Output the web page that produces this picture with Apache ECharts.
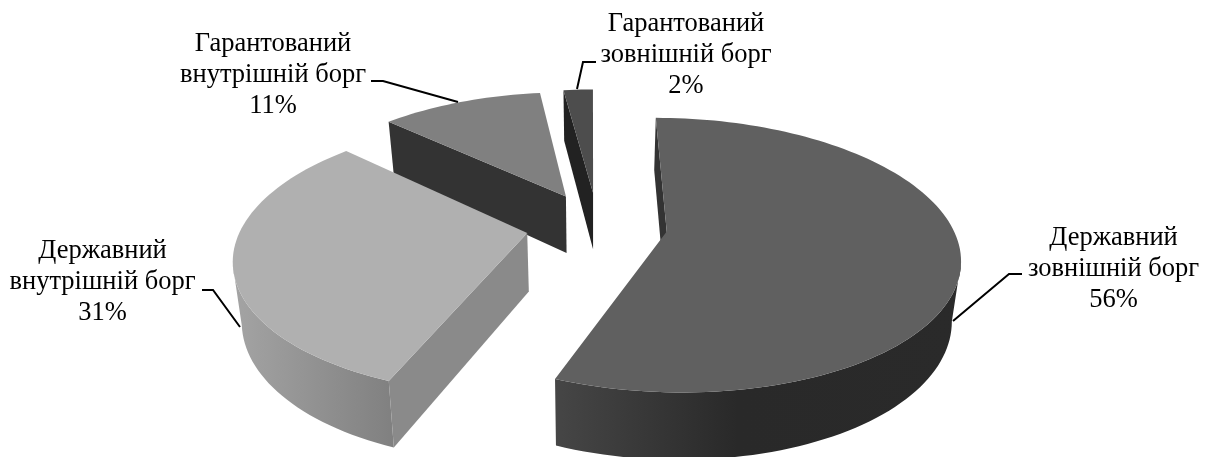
<!DOCTYPE html>
<html>
<head>
<meta charset="utf-8">
<style>
  html, body { margin: 0; padding: 0; background: #fff; }
  #chart { width: 1207px; height: 457px; }
</style>
<script src="https://cdn.jsdelivr.net/npm/echarts@6/dist/echarts.min.js"></script>
</head>
<body>
<div id="chart"></div>
<script>
// data
const categories = ['Державний\nзовнішній борг', 'Державний\nвнутрішній борг', 'Гарантований\nвнутрішній борг', 'Гарантований\nзовнішній борг'];
const shareValues = [56, 31, 11, 2];

// projection of the ground plane, fitted to the picture
const view = { cx: 592, cy: 225, a: 285, b: 131, k: 0.17, depthBase: 15, depth: 43, shrink: 0.975 };
// slice shift out of the centre (u, v)
const explode = [[0.26, 0.05], [-0.225, 0.06], [-0.095, -0.225], [0.004, -0.255]];
const topColors = ['#606060', '#b0b0b0', '#808080', '#4d4d4d'];
const sideColors = ['#333333', '#8a8a8a', '#333333', '#222222'];
const rimColors = [
  [[0, '#464646'], [0.45, '#292929'], [1, '#2a2a2a']],
  [[0, '#a4a4a4'], [1, '#808080']],
  [[0, '#333333'], [1, '#333333']],
  [[0, '#222222'], [1, '#222222']]
];
const labelPos = [[1113.5, 269], [102.5, 282], [273, 75], [686, 55]];
const leaders = [
  [[1022, 274], [1009, 274], [953, 321]],
  [[202, 290], [213, 290], [240, 327]],
  [[371, 81], [383, 81], [458, 102]],
  [[596, 62], [583, 62], [577, 89]]
];

// top surface point
function project(u, v) {
  const s = 1 / (1 - view.k * v);
  return [view.cx + view.a * u * s, view.cy + view.b * v * s];
}
// same point on the lower edge of the wall
function projectLow(u, v) {
  const s = 1 / (1 - view.k * v);
  return [view.cx + view.a * u * s * view.shrink, view.cy + view.b * v * s + view.depthBase + view.depth * s];
}

function sliceAngles(i) {
  let before = 0;
  for (let n = 0; n < i; n++) before += shareValues[n];
  const total = shareValues.reduce((p, c) => p + c, 0);
  return [before / total * Math.PI * 2, (before + shareValues[i]) / total * Math.PI * 2];
}

function renderItem(params, api) {
  const i = api.value(0);
  const [u0, v0] = explode[i];
  const [from, to] = sliceAngles(i);
  const camV = 1 / view.k;
  const children = [];

  // rim points
  const steps = Math.max(4, Math.ceil((to - from) / 0.03));
  const rim = [];
  for (let n = 0; n <= steps; n++) {
    const t = from + (to - from) * n / steps;
    rim.push({ t, u: u0 + Math.sin(t), v: v0 - Math.cos(t) });
  }

  // outer wall, only the part turned to the viewer
  const front = rim.filter(p => Math.sin(p.t) * (-p.u) + (-Math.cos(p.t)) * (camV - p.v) > 0);
  if (front.length > 1) {
    const upper = front.map(p => project(p.u, p.v));
    const lower = front.map(p => projectLow(p.u, p.v)).reverse();
    children.push({
      type: 'polygon',
      shape: { points: upper.concat(lower) },
      style: {
        fill: {
          type: 'linear', x: 0, y: 0, x2: 1, y2: 0,
          colorStops: rimColors[i].map(c => ({ offset: c[0], color: c[1] }))
        }
      }
    });
  }

  // cut walls
  const wall = (t, sign) => {
    const nu = sign * Math.cos(t);
    const nv = sign * Math.sin(t);
    if (nu * (-u0) + nv * (camV - v0) <= 0) return;
    const u1 = u0 + Math.sin(t);
    const v1 = v0 - Math.cos(t);
    children.push({
      type: 'polygon',
      shape: { points: [project(u0, v0), project(u1, v1), projectLow(u1, v1), projectLow(u0, v0)] },
      style: { fill: sideColors[i] }
    });
  };
  wall(from, -1);
  wall(to, 1);

  // top surface
  children.push({
    type: 'polygon',
    shape: { points: [project(u0, v0)].concat(rim.map(p => project(p.u, p.v))) },
    style: { fill: topColors[i] }
  });

  // leader and label
  children.push({
    type: 'polyline',
    shape: { points: leaders[i] },
    style: { stroke: '#000', lineWidth: 2, fill: null }
  });
  children.push({
    type: 'text',
    style: {
      text: categories[i] + '\n' + api.value(1) + '%',
      x: labelPos[i][0],
      y: labelPos[i][1],
      align: 'center',
      verticalAlign: 'middle',
      font: '26.5px "Liberation Serif"',
      lineHeight: 31,
      fill: '#000'
    }
  });

  return { type: 'group', children };
}

const myChart = echarts.init(document.getElementById('chart'), null, { renderer: 'canvas' });
myChart.setOption({
  animation: false,
  backgroundColor: '#fff',
  series: [{
    type: 'custom',
    coordinateSystem: 'none',
    silent: true,
    renderItem,
    // back slices first
    data: [3, 2, 1, 0].map(i => [i, shareValues[i]])
  }]
});
</script>
</body>
</html>
